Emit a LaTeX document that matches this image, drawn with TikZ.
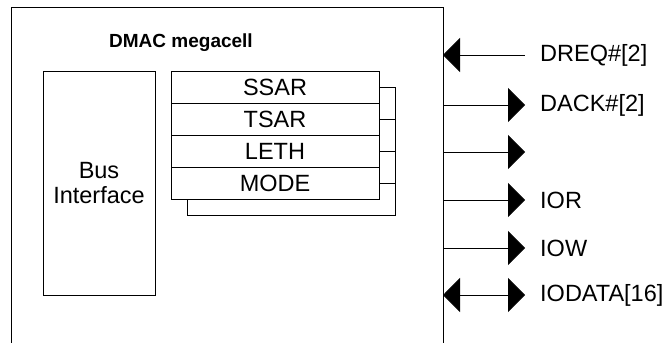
\documentclass[tikz,border=0pt]{standalone}
\usepackage{fontspec}
\setmainfont{Liberation Sans}
\usetikzlibrary{arrows.meta,positioning}
\tikzset{
    line/.style={draw, line width=0.8pt},
    block/.style={rectangle, line, align=center, minimum width=112pt, minimum height=224pt, outer sep=0pt, font=\fontsize{23.5}{25}\selectfont},
    reg/.style={rectangle, line, minimum width=208pt, minimum height=32pt, inner sep=0pt, outer sep=0pt, font=\fontsize{23.5}{25}\selectfont},
    sigtext/.style={inner sep=0pt, font=\fontsize{23.5}{25}\selectfont},
    sigout/.style={line, -{Triangle[length=17pt,width=34pt]}},
    sigin/.style={line, {Triangle[length=17pt,width=34pt]}-},
    sigboth/.style={line, {Triangle[length=17pt,width=34pt]}-{Triangle[length=17pt,width=34pt]}}
}
\begin{document}
\begin{tikzpicture}[x=1pt, y=-1pt]
    \useasboundingbox (0,0) rectangle (670,343);
    % Megacell outline
    \draw[line] (11,343) |- (443,7) -- (443,343);
    \node[font=\bfseries\fontsize{19}{22}\selectfont] (title) at (181,43) {DMAC megacell};
    \node[block] (bus) at (99,183) {Bus\\Interface};

    % Register stack
    \node[reg] (ssar) at (275,87) {SSAR};
    \node[reg, below=0pt of ssar] (tsar) {TSAR};
    \node[reg, below=0pt of tsar] (leth) {LETH};
    \node[reg, below=0pt of leth] (mode) {MODE};
    \draw[line] (ssar.east) -- ++(16,0) |- ([shift={(16,16)}]mode.south west) -- ++(0,-16);
    \foreach \r in {tsar,leth,mode}
        \draw[line] (\r.east) -- ++(16,0);

    % Signals
    \foreach \n/\y/\tip in {dreq/55/sigin, dack/105/sigout, spare/152/sigout, ior/200/sigout, iow/248/sigout, iodata/295/sigboth} {
        \coordinate (\n-w) at (443,\y);
        \coordinate (\n-e) at (525,\y);
        \draw[\tip] (\n-w) -- (\n-e);
    }
    \node[sigtext, right=15pt of dreq-e] (dreq) {DREQ\#[2]};
    \node[sigtext, right=15pt of dack-e] (dack) {DACK\#[2]};
    \node[sigtext, right=15pt of ior-e] (ior) {IOR};
    \node[sigtext, right=15pt of iow-e] (iow) {IOW};
    \node[sigtext, right=15pt of iodata-e] (iodata) {IODATA[16]};
\end{tikzpicture}
\end{document}
